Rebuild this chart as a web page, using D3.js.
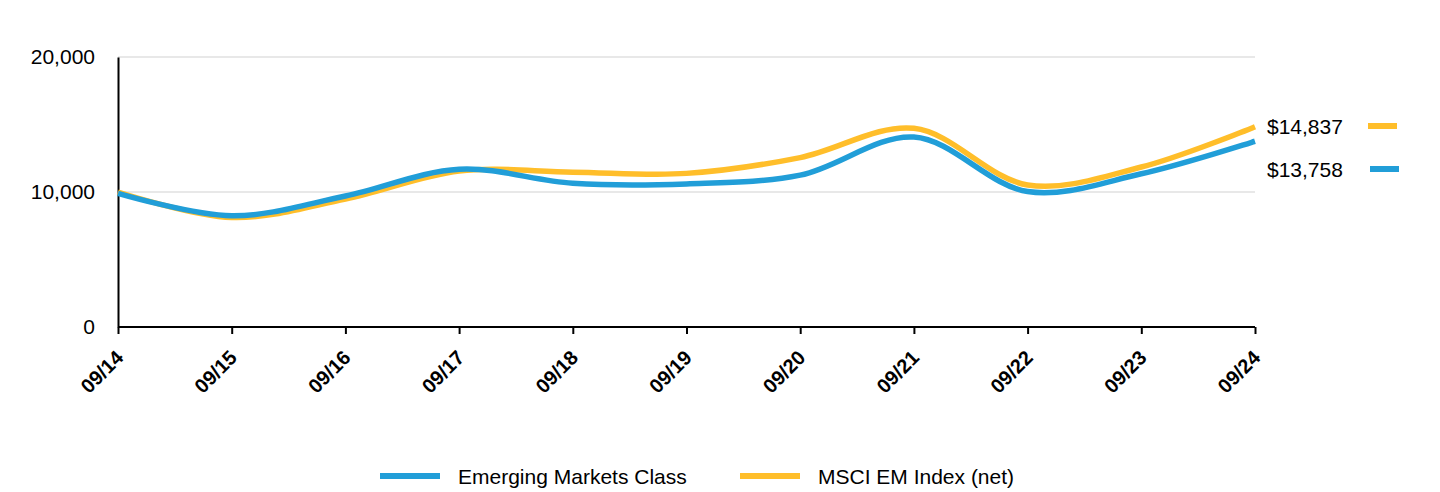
<!DOCTYPE html>
<html><head><meta charset="utf-8">
<script src="https://cdn.jsdelivr.net/npm/d3@7"></script>
<style>body{margin:0;background:#fff;}text{font-family:"Liberation Sans",Arial,sans-serif;}</style>
</head><body><svg id="c" width="1440" height="492"></svg>
<script>
const categories = ["09/14","09/15","09/16","09/17","09/18","09/19","09/20","09/21","09/22","09/23","09/24"];
const fundValues = [9900, 8240, 9700, 11680, 10650, 10600, 11250, 14070, 10030, 11350, 13758];
const indexValues = [10000, 8110, 9480, 11560, 11470, 11380, 12550, 14716, 10520, 11850, 14837];
const yTicks = [0, 10000, 20000];
const seriesNames = ["Emerging Markets Class", "MSCI EM Index (net)"];
const endLabels = ["$13,758", "$14,837"];
const colors = ["#219ED8", "#FFBE2A"];

const svg = d3.select("#c");
const x = d3.scalePoint().domain(categories).range([118, 1255]);
const y = d3.scaleLinear().domain([0, 20000]).range([327, 57]);

// gridlines
svg.append("g").selectAll("line").data(yTicks.filter(d => d > 0)).join("line")
  .attr("x1", 118).attr("x2", 1255).attr("y1", d => y(d)).attr("y2", d => y(d))
  .attr("stroke", "#e0e0e0").attr("stroke-width", 1.5);

// y axis
const ya = svg.append("g").attr("transform", "translate(118,0)")
  .call(d3.axisLeft(y).tickValues(yTicks).tickFormat(d3.format(",")).tickSize(0).tickPadding(23));
ya.select(".domain").attr("stroke", "#000").attr("stroke-width", 2);
ya.selectAll("text").attr("font-size", 21).attr("fill", "#000").attr("font-family", "Liberation Sans, Arial, sans-serif");

// x axis
const xa = svg.append("g").attr("transform", "translate(0,327)")
  .call(d3.axisBottom(x).tickSizeOuter(0).tickSizeInner(7));
xa.select(".domain").attr("stroke", "#000").attr("stroke-width", 2).attr("d", "M118,0H1255");
xa.selectAll(".tick line").attr("stroke", "#000").attr("stroke-width", 2);
xa.selectAll("text").attr("font-size", 20).attr("font-weight", "bold").attr("fill", "#000")
  .attr("font-family", "Liberation Sans, Arial, sans-serif")
  .attr("text-anchor", "end").attr("dy", null).attr("y", 0)
  .attr("transform", "translate(6,32) rotate(-45)");

// lines
const line = d3.line().x((d, i) => x(categories[i])).y(d => y(d)).curve(d3.curveCatmullRom.alpha(0.5));
svg.append("path").datum(indexValues).attr("d", line).attr("fill", "none")
  .attr("stroke", colors[1]).attr("stroke-width", 5.5);
svg.append("path").datum(fundValues).attr("d", line).attr("fill", "none")
  .attr("stroke", colors[0]).attr("stroke-width", 5.5);

// end labels
const endG = svg.append("g");
[[1, 127], [0, 170]].forEach(([s, yy]) => {
  endG.append("text").attr("x", 1267).attr("y", yy).attr("dy", "0.35em")
    .attr("font-size", 21).attr("fill", "#000").text(endLabels[s]);
  endG.append("line").attr("x1", 1368 + (s === 0 ? 2 : 0)).attr("x2", 1397 + (s === 0 ? 2 : 0))
    .attr("y1", yy - 1).attr("y2", yy - 1).attr("stroke", colors[s]).attr("stroke-width", 6);
});

// legend
const leg = svg.append("g");
[[0, 380], [1, 740]].forEach(([s, lx]) => {
  leg.append("line").attr("x1", lx).attr("x2", lx + 60).attr("y1", 476).attr("y2", 476)
    .attr("stroke", colors[s]).attr("stroke-width", 6);
  leg.append("text").attr("x", lx + 78).attr("y", 477).attr("dy", "0.35em")
    .attr("font-size", 21).attr("fill", "#000").text(seriesNames[s]);
});
</script></body></html>
